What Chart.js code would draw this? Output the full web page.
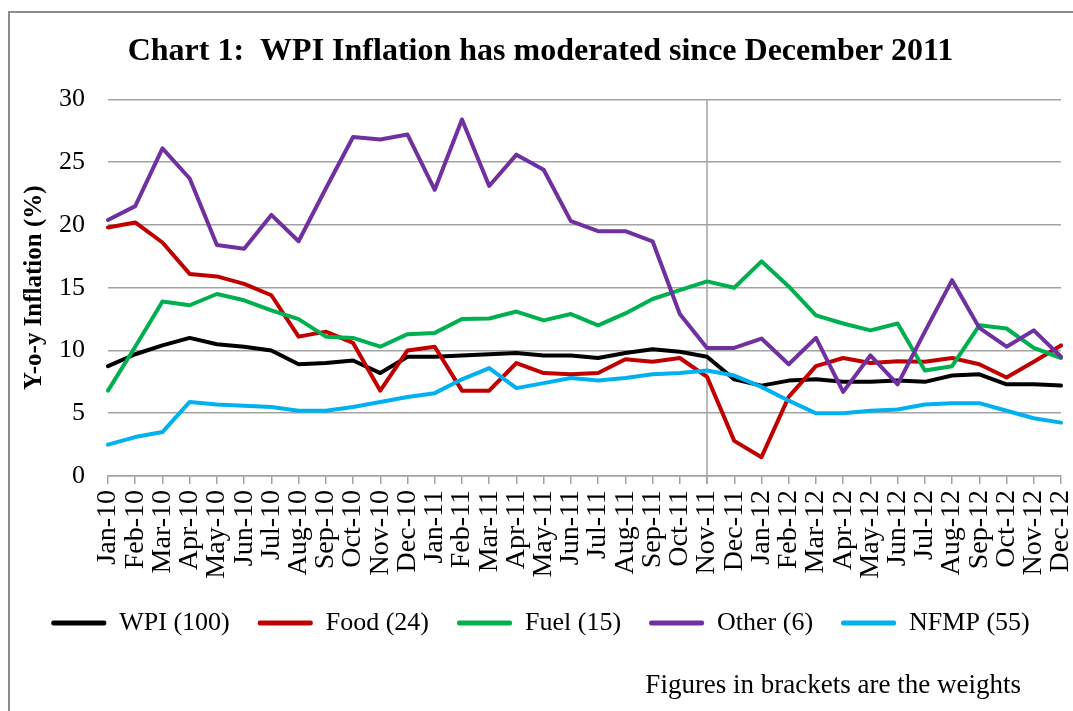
<!DOCTYPE html>
<html>
<head>
<meta charset="utf-8">
<script src="https://cdn.jsdelivr.net/npm/chart.js@4/dist/chart.umd.min.js"></script>
<style>
  html, body { margin: 0; padding: 0; background: #fff; overflow: hidden; }
  canvas { display: block; }
</style>
</head>
<body>
<canvas id="wpiChart" width="1073" height="711"></canvas>
<script>
// Month labels Jan-10 .. Dec-12
const months = [
    'Jan-10', 'Feb-10', 'Mar-10', 'Apr-10', 'May-10', 'Jun-10', 'Jul-10', 'Aug-10', 'Sep-10', 'Oct-10', 'Nov-10', 'Dec-10',
    'Jan-11', 'Feb-11', 'Mar-11', 'Apr-11', 'May-11', 'Jun-11', 'Jul-11', 'Aug-11', 'Sep-11', 'Oct-11', 'Nov-11', 'Dec-11',
    'Jan-12', 'Feb-12', 'Mar-12', 'Apr-12', 'May-12', 'Jun-12', 'Jul-12', 'Aug-12', 'Sep-12', 'Oct-12', 'Nov-12', 'Dec-12'
];

// Y-o-y inflation (%)
const wpi = [
    8.75, 9.7, 10.4, 11.0, 10.5, 10.3, 10.0, 8.9, 9.0, 9.2, 8.2, 9.5,
    9.5, 9.6, 9.7, 9.8, 9.6, 9.6, 9.4, 9.8, 10.1, 9.9, 9.5, 7.7,
    7.2, 7.6, 7.7, 7.5, 7.5, 7.6, 7.5, 8.0, 8.1, 7.3, 7.3, 7.2
];
const food = [
    19.8, 20.2, 18.6, 16.1, 15.9, 15.3, 14.4, 11.1, 11.5, 10.6, 6.8, 10.0,
    10.3, 6.8, 6.8, 9.0, 8.2, 8.1, 8.2, 9.3, 9.1, 9.4, 7.9, 2.8,
    1.5, 6.3, 8.75, 9.4, 9.0, 9.15, 9.1, 9.4, 8.9, 7.85, 9.1, 10.4
];
const fuel = [
    6.8, 10.3, 13.9, 13.6, 14.5, 14.0, 13.2, 12.5, 11.1, 11.0, 10.3, 11.3,
    11.4, 12.5, 12.55, 13.1, 12.4, 12.9, 12.0, 12.95, 14.1, 14.8, 15.5, 15.0,
    17.1, 15.1, 12.8, 12.15, 11.6, 12.15, 8.4, 8.75, 12.0, 11.75, 10.2, 9.4
];
const other = [
    20.4, 21.5, 26.1, 23.7, 18.4, 18.1, 20.8, 18.7, 22.9, 27.0, 26.8, 27.2,
    22.8, 28.4, 23.1, 25.6, 24.4, 20.3, 19.5, 19.5, 18.7, 12.9, 10.2, 10.2,
    10.95, 8.9, 11.0, 6.7, 9.6, 7.3, 11.5, 15.6, 11.8, 10.3, 11.6, 9.5
];
const nfmp = [
    2.5, 3.1, 3.5, 5.9, 5.7, 5.6, 5.5, 5.2, 5.2, 5.5, 5.9, 6.3,
    6.6, 7.7, 8.6, 7.0, 7.4, 7.8, 7.6, 7.8, 8.1, 8.2, 8.4, 8.0,
    7.1, 6.0, 5.0, 5.0, 5.2, 5.3, 5.7, 5.8, 5.8, 5.2, 4.6, 4.25
];

const seriesNames = ['WPI (100)', 'Food (24)', 'Fuel (15)', 'Other (6)', 'NFMP (55)'];
const seriesColors = ['#000000', '#c00000', '#00b050', '#7030a0', '#00b0f0'];
const yTicks = [0, 5, 10, 15, 20, 25, 30];
const markMonth = 'Nov-11'; // vertical marker
const footnote = 'Figures in brackets are the weights';

const gridGrey = '#a3a3a3';

Chart.defaults.font.family = '"Liberation Serif", "Times New Roman", serif';
Chart.defaults.color = '#000';

// outer frame of the original picture (only left and top edges visible)
const framePlugin = {
    id: 'frame',
    beforeDraw(chart) {
        const ctx = chart.ctx;
        ctx.save();
        ctx.strokeStyle = '#8c8c8c';
        ctx.lineWidth = 2;
        ctx.beginPath();
        ctx.moveTo(9, chart.height + 2);
        ctx.lineTo(9, 12);
        ctx.lineTo(chart.width + 2, 12);
        ctx.stroke();
        ctx.restore();
    }
};

// vertical line at Nov-11
const markerPlugin = {
    id: 'marker',
    beforeDatasetsDraw(chart) {
        const x = chart.scales.x.getPixelForValue(months.indexOf(markMonth));
        const area = chart.chartArea;
        const ctx = chart.ctx;
        ctx.save();
        ctx.strokeStyle = gridGrey;
        ctx.lineWidth = 1.5;
        ctx.beginPath();
        ctx.moveTo(x, area.top);
        ctx.lineTo(x, area.bottom + 8);
        ctx.stroke();
        ctx.restore();
    }
};

// note under the legend
const footnotePlugin = {
    id: 'footnote',
    afterDraw(chart) {
        const ctx = chart.ctx;
        ctx.save();
        ctx.font = '27px "Liberation Serif", serif';
        ctx.fillStyle = '#000';
        ctx.textAlign = 'right';
        ctx.textBaseline = 'middle';
        ctx.fillText(footnote, 1021, 686);
        ctx.restore();
    }
};

const seriesData = [wpi, food, fuel, other, nfmp];

const datasets = seriesData.map((values, i) => ({
    label: seriesNames[i],
    data: values,
    borderColor: seriesColors[i],
    backgroundColor: seriesColors[i],
    borderWidth: 4,
    pointRadius: 0,
    tension: 0,
    borderJoinStyle: 'round',
    borderCapStyle: 'round',
    order: seriesData.length - i, // later series drawn on top, like the original
}));

new Chart(document.getElementById('wpiChart'), {
    type: 'line',
    data: { labels: months, datasets: datasets },
    plugins: [framePlugin, markerPlugin, footnotePlugin],
    options: {
        responsive: false,
        animation: false,
        layout: { padding: { left: 20, right: 12, top: 0, bottom: 65 } },
        plugins: {
            tooltip: { enabled: false },
            title: {
                display: true,
                text: 'Chart 1:  WPI Inflation has moderated since December 2011',
                font: { size: 32, weight: 'bold' },
                padding: { top: 33, bottom: 28 },
            },
            legend: {
                position: 'bottom',
                labels: {
                    boxWidth: 55,
                    boxHeight: 5,
                    padding: 28,
                    font: { size: 26 },
                    sort: (a, b) => a.datasetIndex - b.datasetIndex,
                    generateLabels(chart) {
                        const items = Chart.defaults.plugins.legend.labels.generateLabels(chart);
                        items.forEach(item => {
                            item.lineWidth = 0;
                            item.borderRadius = 2;
                        });
                        return items;
                    },
                },
            },
        },
        scales: {
            x: {
                offset: false,
                grid: {
                    display: true,
                    drawOnChartArea: false,
                    drawTicks: true,
                    tickLength: 8,
                    color: gridGrey,
                    lineWidth: 1.5,
                },
                border: { display: true, color: gridGrey, width: 1.5 },
                ticks: {
                    autoSkip: false,
                    minRotation: 90,
                    maxRotation: 90,
                    padding: 6,
                    font: { size: 28, lineHeight: 1 },
                },
                afterFit(scale) {
                    scale.height = 106;
                    scale.paddingLeft = 0;
                    scale.paddingRight = 0;
                },
            },
            y: {
                min: yTicks[0],
                max: yTicks[yTicks.length - 1],
                afterBuildTicks(scale) {
                    scale.ticks = yTicks.map(v => ({ value: v }));
                },
                grid: {
                    color: gridGrey,
                    lineWidth: 1.5,
                    drawTicks: false,
                },
                border: { display: false },
                ticks: {
                    padding: 23,
                    font: { size: 26 },
                },
                title: {
                    display: true,
                    text: 'Y-o-y Inflation (%)',
                    font: { size: 25, weight: 'bold' },
                    padding: { top: 0, bottom: 0 },
                },
                afterFit(scale) {
                    scale.width = 88;
                },
            },
        },
    },
});
</script>
</body>
</html>
